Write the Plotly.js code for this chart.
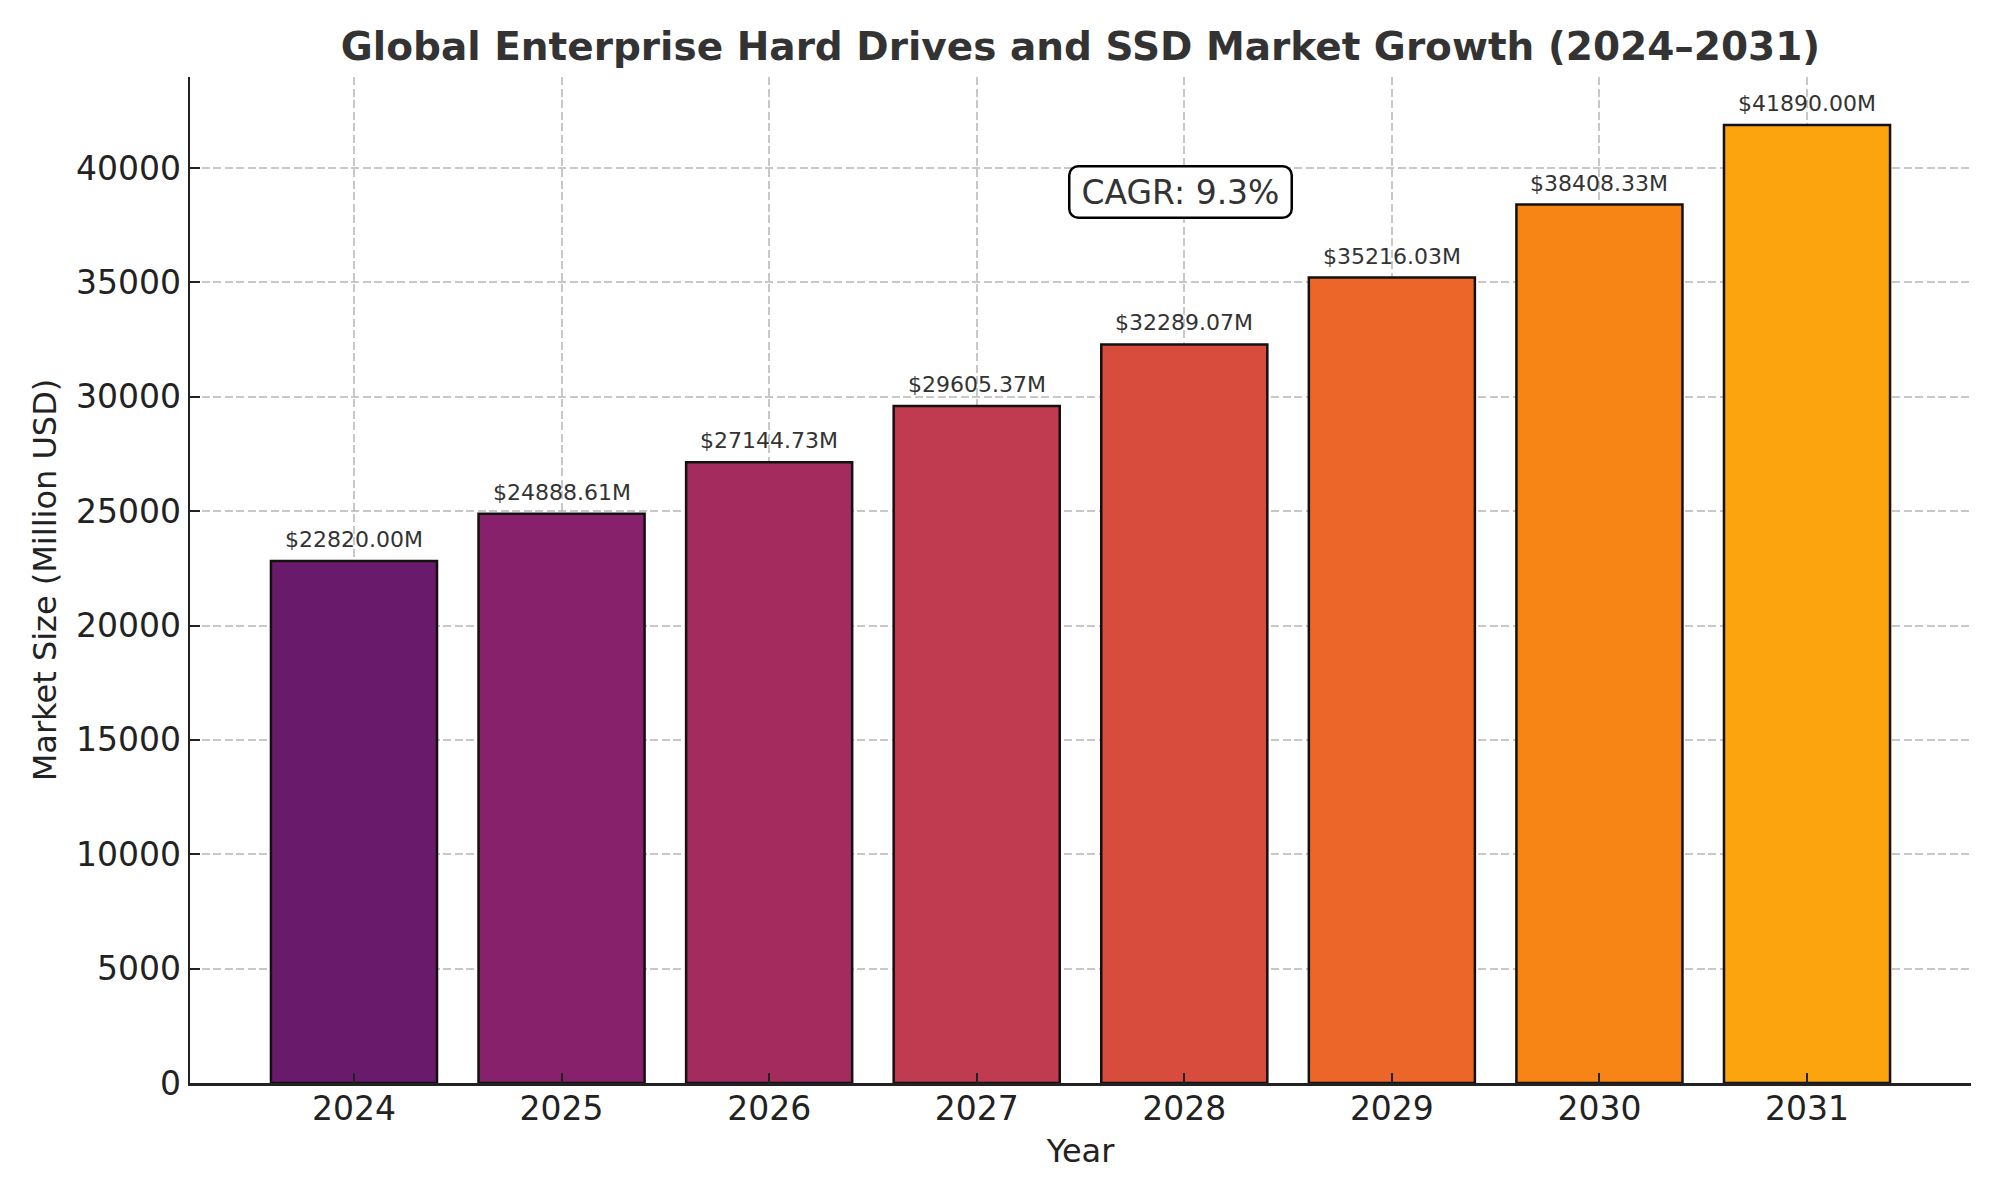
<!DOCTYPE html>
<html>
<head>
<meta charset="utf-8">
<script src="https://cdn.plot.ly/plotly-3.0.1.min.js"></script>
<style>
  html, body { margin: 0; padding: 0; background: #ffffff; }
  #chart { width: 2000px; height: 1200px; }
</style>
</head>
<body>
<div id="chart"></div>
<script>
// Market size by year (million USD)
const years = ['2024', '2025', '2026', '2027', '2028', '2029', '2030', '2031'];
const marketSize = [22820.00, 24888.61, 27144.73, 29605.37, 32289.07, 35216.03, 38408.33, 41890.00];
const barColors = ['#6a1a6a', '#87216b', '#a32b5e', '#c03a50', '#d84c3e', '#eb6628', '#f68515', '#fba40e'];
const cagrText = 'CAGR: 9.3%';
const cagrYear = '2028';
const cagrLevel = 38960;

const FONT = 'DejaVu Sans, sans-serif';
const yMax = Math.max(...marketSize) * 1.05;

// value labels sit on the category slot of each bar (index on a category axis)
const valueLabels = years.map((yr, i) => ({
  x: i,
  y: marketSize[i],
  xref: 'x',
  yref: 'y',
  text: '$' + marketSize[i].toFixed(2) + 'M',
  showarrow: false,
  yanchor: 'bottom',
  xanchor: 'center',
  yshift: 7,
  font: { family: FONT, size: 22, color: '#333333' }
}));

const cagrBox = {
  x: years.indexOf(cagrYear),
  y: cagrLevel,
  xref: 'x',
  yref: 'y',
  text: cagrText,
  showarrow: false,
  xanchor: 'center',
  yanchor: 'middle',
  xshift: -4,
  font: { family: FONT, size: 33, color: '#333333' },
  bgcolor: '#ffffff',
  bordercolor: '#000000',
  borderwidth: 2.5,
  borderpad: 5
};

const trace = {
  type: 'bar',
  x: years,
  y: marketSize,
  width: 0.8,
  marker: {
    color: barColors,
    line: { color: '#111111', width: 2.5 }
  },
  hoverinfo: 'skip'
};

const gridStyle = {
  showgrid: true,
  gridcolor: 'rgba(176,176,176,0.7)',
  gridwidth: 2,
  griddash: '8px,3.5px'
};

const layout = {
  width: 2000,
  height: 1200,
  margin: { l: 190, r: 29, t: 77, b: 117 },
  paper_bgcolor: '#ffffff',
  plot_bgcolor: '#ffffff',
  showlegend: false,
  font: { family: FONT, color: '#222222' },
  title: {
    text: '<b>Global Enterprise Hard Drives and SSD Market Growth (2024–2031)</b>',
    font: { family: FONT, size: 39, color: '#333333' },
    x: 0.5,
    xref: 'paper',
    y: 1 - 46 / 1200,
    yref: 'container',
    yanchor: 'middle'
  },
  xaxis: Object.assign({
    type: 'category',
    range: [-0.79, 7.79],
    showline: true,
    linecolor: '#222222',
    linewidth: 2.5,
    ticks: 'inside',
    ticklen: 10,
    tickwidth: 2,
    tickcolor: '#222222',
    ticklabelstandoff: -5,
    tickfont: { family: FONT, size: 33, color: '#222222' },
    title: { text: 'Year', font: { family: FONT, size: 32, color: '#222222' }, standoff: 13 },
    zeroline: false,
    fixedrange: true
  }, gridStyle),
  yaxis: Object.assign({
    range: [0, yMax],
    tickvals: [0, 5000, 10000, 15000, 20000, 25000, 30000, 35000, 40000],
    ticktext: ['0', '5000', '10000', '15000', '20000', '25000', '30000', '35000', '40000'],
    showline: true,
    linecolor: '#222222',
    linewidth: 2.5,
    ticks: 'inside',
    ticklen: 10,
    tickwidth: 2,
    tickcolor: '#222222',
    tickfont: { family: FONT, size: 33, color: '#222222' },
    title: { text: 'Market Size (Million USD)', font: { family: FONT, size: 32, color: '#222222' }, standoff: 10 },
    zeroline: false,
    fixedrange: true
  }, gridStyle),
  annotations: valueLabels.concat([cagrBox])
};

Plotly.newPlot('chart', [trace], layout, { staticPlot: true, displayModeBar: false }).then(function (gd) {
  // Draw the grid over the bars, as dashed overlay lines
  gd.querySelectorAll('.cartesianlayer .subplot').forEach(function (sp) {
    const grid = sp.querySelector('.gridlayer');
    const plot = sp.querySelector('.plot');
    if (grid && plot) plot.parentNode.insertBefore(grid, plot.nextSibling);
  });
  // Round and widen the CAGR box
  const anns = gd.querySelectorAll('.annotation');
  const last = anns[anns.length - 1];
  if (last) {
    const bg = last.querySelector('rect.bg');
    if (bg) {
      const w = parseFloat(bg.getAttribute('width'));
      const x = parseFloat(bg.getAttribute('x') || 0);
      const extra = 6;
      bg.setAttribute('x', x - extra);
      bg.setAttribute('width', w + 2 * extra);
      bg.setAttribute('rx', 9);
      bg.setAttribute('ry', 9);
    }
  }
});
</script>
</body>
</html>
